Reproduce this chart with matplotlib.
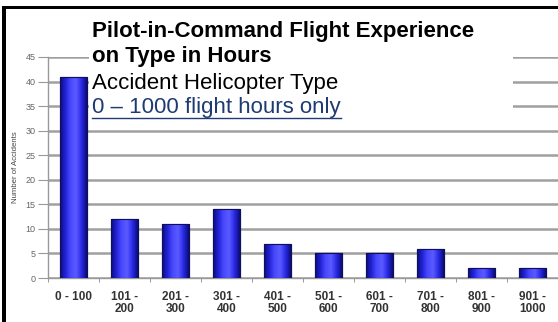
import numpy as np
import matplotlib
matplotlib.use("Agg")
import matplotlib.pyplot as plt
from matplotlib.patches import Rectangle
from matplotlib.colors import LinearSegmentedColormap
from matplotlib.lines import Line2D

plt.rcParams['font.family'] = ['Liberation Sans', 'DejaVu Sans']

categories = ["0 - 100", "101 -\n200", "201 -\n300", "301 -\n400", "401 -\n500",
              "501 -\n600", "601 -\n700", "701 -\n800", "801 -\n900", "901 -\n1000"]
accidents = [41, 12, 11, 14, 7, 5, 5, 6, 2, 2]
yticks = [0, 5, 10, 15, 20, 25, 30, 35, 40, 45]

W, H = 558, 322
fig = plt.figure(figsize=(W / 100, H / 100), dpi=100)
ax = fig.add_axes([48 / W, 1 - 278 / H, 510 / W, (278 - 57) / H])

x = np.arange(len(categories))
bars = ax.bar(x, accidents, width=0.52, color='#2b2bf0', edgecolor='#10105a',
              linewidth=0.8, zorder=3)

# cylinder-like shading across each bar
shade = LinearSegmentedColormap.from_list(
    'shade', ['#0c0c80', '#2323d8', '#4a4aff', '#5a5aff', '#2a2ae8', '#0c0c78'])
grad = np.linspace(0, 1, 64).reshape(1, -1)
for b in bars:
    x0, w, h = b.get_x(), b.get_width(), b.get_height()
    im = ax.imshow(grad, cmap=shade, aspect='auto', extent=(x0, x0 + w, 0, h),
                   zorder=3.5, interpolation='bilinear')
    im.set_clip_path(b)
    ax.add_patch(Rectangle((x0, 0), w, h, fill=False, edgecolor='#10105a',
                           linewidth=0.8, zorder=4))

ax.set_xlim(-0.5, len(categories) - 0.5)
ax.set_ylim(0, 45)
ax.set_yticks(yticks)
ax.yaxis.grid(True, color='#a0a0a0', linewidth=1.8, zorder=0)
ax.set_axisbelow(True)

ax.set_xticks(x)
ax.set_xticklabels(categories, fontsize=8.5, fontweight='bold', color='#333333',
                   linespacing=1.1)
ax.set_xticks(np.arange(len(categories) + 1) - 0.5, minor=True)
ax.tick_params(axis='x', which='major', length=0, pad=9)
ax.tick_params(axis='x', which='minor', length=3, color='#888888', direction='out')
ax.tick_params(axis='y', length=7, color='#999999', labelsize=6.5,
               labelcolor='#666666', pad=2)

for s in ['top', 'right']:
    ax.spines[s].set_visible(False)
for s in ['left', 'bottom']:
    ax.spines[s].set_color('#999999')
    ax.spines[s].set_linewidth(1.0)

ax.set_ylabel('Number of Accidents', fontsize=5.6, color='#444444', labelpad=5)

# white panel behind the heading
fig.add_artist(Rectangle((89 / W, 1 - 124 / H), (513 - 89) / W, (124 - 11) / H,
                         transform=fig.transFigure, facecolor='white',
                         edgecolor='none', zorder=3))

tx = 92 / W
fs = 16
fig.text(tx, 1 - 36.5 / H, 'Pilot-in-Command Flight Experience', fontsize=fs,
         fontweight='bold', color='black', va='baseline', zorder=4)
fig.text(tx, 1 - 62 / H, 'on Type in Hours', fontsize=fs,
         fontweight='bold', color='black', va='baseline', zorder=4)
fig.text(tx, 1 - 89 / H, 'Accident Helicopter Type', fontsize=fs,
         color='black', va='baseline', zorder=4)
sub = fig.text(tx, 1 - 113 / H, '0 \u2013 1000 flight hours only', fontsize=fs,
               color='#1f3b73', va='baseline', zorder=4)

fig.canvas.draw()
bb = sub.get_window_extent()
fig.add_artist(Line2D([bb.x0 / W, bb.x1 / W], [1 - 118 / H, 1 - 118 / H],
                      transform=fig.transFigure, color='#1f3b73',
                      linewidth=1.0, zorder=4))

# black frame on top and left edges
fig.add_artist(Rectangle((2 / W, 0), 4 / W, 1 - 6 / H, transform=fig.transFigure,
                         facecolor='black', edgecolor='none', zorder=5))
fig.add_artist(Rectangle((2 / W, 1 - 9 / H), 1, 3 / H, transform=fig.transFigure,
                         facecolor='black', edgecolor='none', zorder=5))

fig.savefig('out.png', dpi=100)
